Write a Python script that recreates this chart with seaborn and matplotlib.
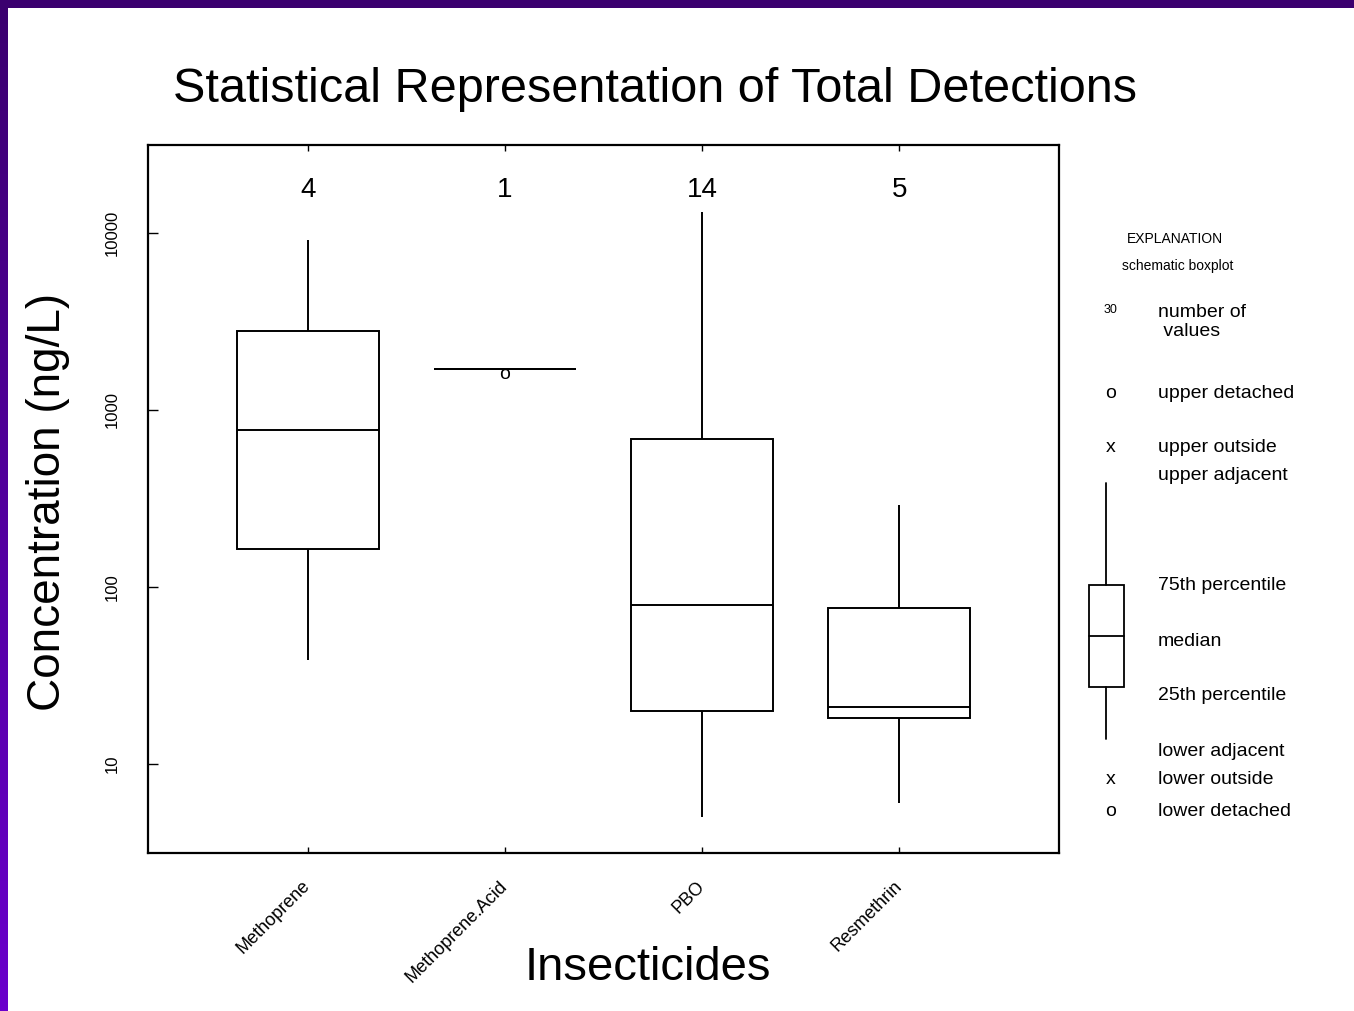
import numpy as np
import pandas as pd
import matplotlib
matplotlib.use('Agg')
import matplotlib.pyplot as plt
import matplotlib.transforms as mtransforms
from matplotlib.colors import LinearSegmentedColormap
from matplotlib.patches import Rectangle
from matplotlib.lines import Line2D
import seaborn as sns

# five-number summaries (low whisker, Q1, median, Q3, high whisker)
insecticides = ['Methoprene', 'Methoprene.Acid', 'PBO', 'Resmethrin']
methoprene = [38.7, 164, 771, 2790, 9120]
methoprene_acid = [1706]
pbo = [5.0, 19.9, 79, 686, 13150]
resmethrin = [6.0, 18.2, 21, 76, 290]
counts = [4, 1, 14, 5]
ytick_vals = [10, 100, 1000, 10000]

series = [methoprene, methoprene_acid, pbo, resmethrin]
df = pd.DataFrame({
    'insecticide': [name for name, vals in zip(insecticides, series) for _ in vals],
    'conc': [v for vals in series for v in vals],
})

sns.set_style('white')
plt.rcParams['font.family'] = ['Liberation Sans', 'DejaVu Sans']
plt.rcParams['text.color'] = 'black'
plt.rcParams['xtick.color'] = 'black'
plt.rcParams['ytick.color'] = 'black'

W, H = 1354, 1011
fig = plt.figure(figsize=(W / 100, H / 100), dpi=100)
ax = fig.add_axes([148 / W, 1 - 853 / H, (1059 - 148) / W, (853 - 145) / H])

sns.boxplot(data=df, x='insecticide', y='conc', order=insecticides, ax=ax,
            whis=(0, 100), width=0.72, color='white', linecolor='black',
            linewidth=1.4, showcaps=False, fliersize=0, log_scale=True,
            medianprops={'color': 'black', 'linewidth': 1.4})

ax.set_ylim(3.14, 31400)
ax.set_xlim(-0.81, 3.81)

# single detection shown as a detached value
ax.annotate('o', xy=(1, 1706), xytext=(0, -4), textcoords='offset points',
            ha='center', va='center', fontsize=14)

# number of values above each box
trans = mtransforms.blended_transform_factory(ax.transData, ax.transAxes)
for i, n in enumerate(counts):
    ax.text(i, 0.937, str(n), transform=trans, ha='center', va='center', fontsize=20)

ax.set_yticks(ytick_vals)
ax.set_yticklabels([str(v) for v in ytick_vals], rotation=90, va='center', fontsize=12)
ax.yaxis.set_minor_locator(matplotlib.ticker.NullLocator())
ax.tick_params(axis='y', direction='in', length=7, width=1, pad=20, left=True)
ax.tick_params(axis='x', direction='in', length=4, width=1, bottom=True, top=True, pad=22)
ax.set_xticks(range(len(insecticides)))
ax.set_xticklabels(insecticides, rotation=45, ha='right', va='center',
                   rotation_mode='anchor', fontsize=13)
ax.set_xlabel('')
ax.set_ylabel('')
for sp in ax.spines.values():
    sp.set_visible(True)
    sp.set_color('black')
    sp.set_linewidth(1.6)

fig.text(655 / W, 1 - 90 / H, 'Statistical Representation of Total Detections',
         ha='center', va='center', fontsize=35)
fig.text(648 / W, 1 - 968 / H, 'Insecticides', ha='center', va='center', fontsize=34)
fig.text(48 / W, 1 - 502 / H, 'Concentration (ng/L)', ha='center', va='center',
         fontsize=33, rotation=90)

# explanation panel
def px(x, y):
    return x / W, 1 - y / H

fig.text(*px(1175, 239), 'EXPLANATION', ha='center', va='center', fontsize=10)
fig.text(*px(1178, 266), 'schematic boxplot', ha='center', va='center', fontsize=10)
fig.text(*px(1111, 310), '30', ha='center', va='center', fontsize=9)
fig.text(*px(1158, 322), 'number of\n values', ha='left', va='center', fontsize=14,
         linespacing=1.1)
legend_rows = [
    ('o', 393, 'upper detached'),
    ('x', 448, 'upper outside'),
    ('', 476, 'upper adjacent'),
    ('', 586, '75th percentile'),
    ('', 641, 'median'),
    ('', 696, '25th percentile'),
    ('', 751, 'lower adjacent'),
    ('x', 779, 'lower outside'),
    ('o', 812, 'lower detached'),
]
for sym, y, label in legend_rows:
    if sym:
        fig.text(*px(1111, y), sym, ha='center', va='center', fontsize=14)
    fig.text(*px(1158, y), label, ha='left', va='center', fontsize=14)

lw = 1.3
fig.add_artist(Line2D([1106 / W, 1106 / W], [1 - 483 / H, 1 - 585 / H], color='black', lw=lw))
fig.add_artist(Line2D([1106 / W, 1106 / W], [1 - 687 / H, 1 - 739 / H], color='black', lw=lw))
fig.add_artist(Rectangle((1089 / W, 1 - 687 / H), 35 / W, 102 / H, fill=False,
                         edgecolor='black', lw=lw, transform=fig.transFigure))
fig.add_artist(Line2D([1089 / W, 1124 / W], [1 - 636 / H, 1 - 636 / H], color='black', lw=lw))

# slide border: purple band on top and a gradient strip on the left
cmap = LinearSegmentedColormap.from_list('border', ['#3b006f', '#6a00cc'])
bax = fig.add_axes([0, 0, 8 / W, 1])
bax.imshow(np.linspace(0, 1, 256).reshape(-1, 1), aspect='auto', cmap=cmap)
bax.axis('off')
tax = fig.add_axes([0, 1 - 8 / H, 1, 8 / H])
tax.set_facecolor('#3b006f')
tax.set_xticks([])
tax.set_yticks([])
for sp in tax.spines.values():
    sp.set_visible(False)

fig.savefig('out.png', dpi=100)
